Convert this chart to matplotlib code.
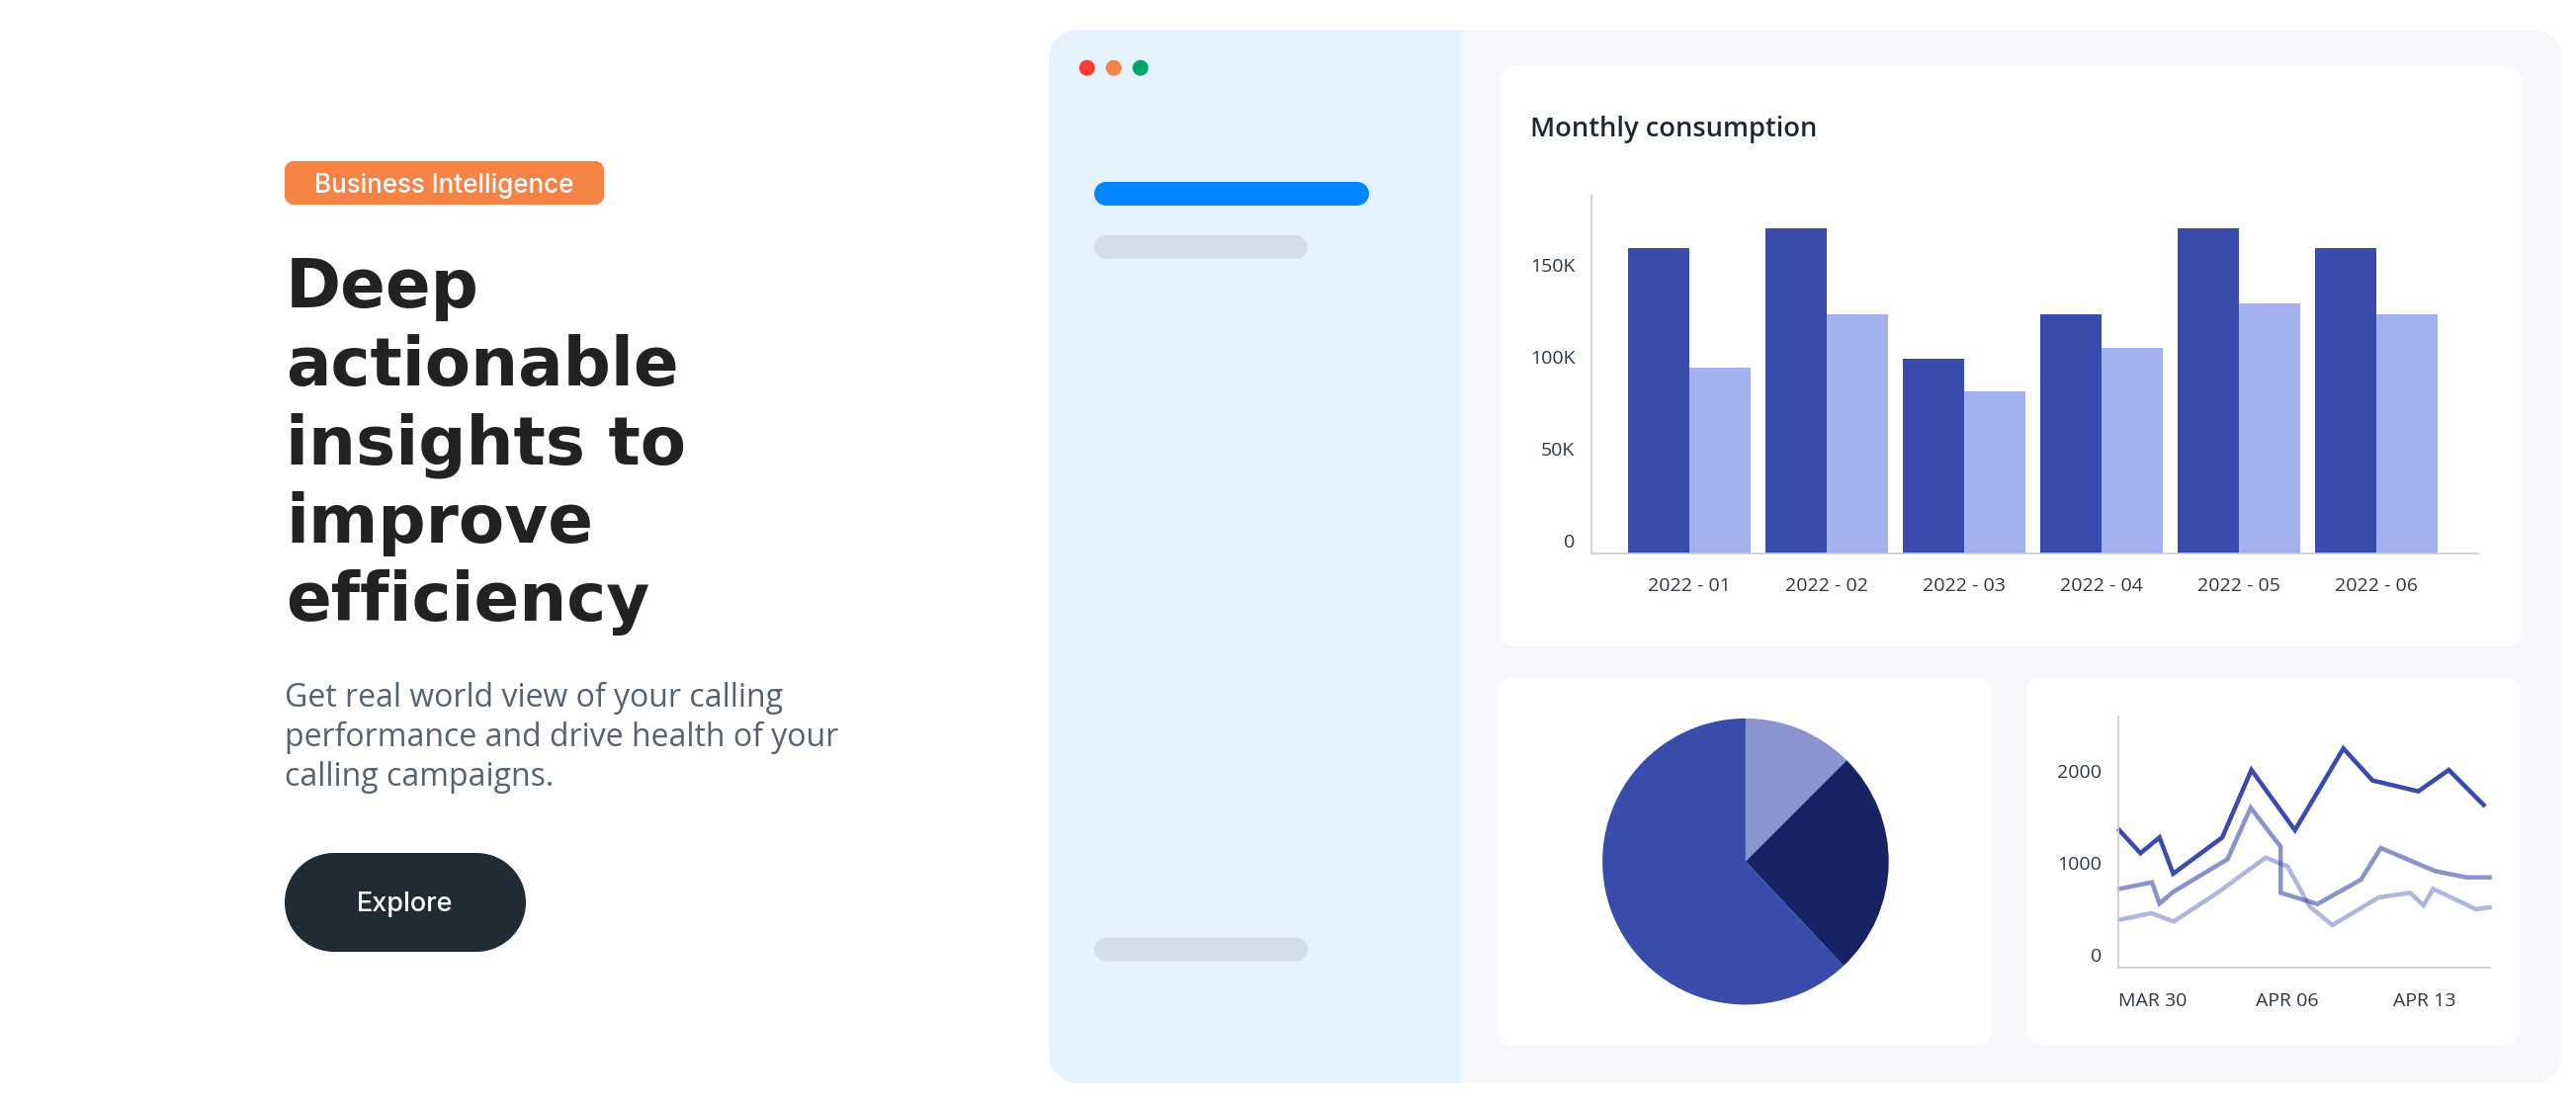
# landing page hero with a mock dashboard: bar, pie and line charts

import matplotlib
matplotlib.use("Agg")
import matplotlib.pyplot as plt
import numpy as np
from matplotlib.patches import Circle, Polygon, Rectangle
from matplotlib.transforms import ScaledTranslation

W, H = 2606, 1116

months = ["2022 - 01", "2022 - 02", "2022 - 03", "2022 - 04", "2022 - 05", "2022 - 06"]
dark_bars = [166000, 177000, 106000, 130000, 177000, 166000]
light_bars = [101000, 130000, 88000, 112000, 136000, 130000]
bar_ticks = [0, 50000, 100000, 150000]
bar_tick_labels = ["0", "50K", "100K", "150K"]

pie_values = [12.5, 25.5, 62]
pie_colors = ["#8A94CE", "#182366", "#394BAB"]

line1_days = [0.05, 1.13, 2.1, 2.8, 5.3, 6.79, 9.01, 11.48, 12.97, 15.3, 16.86, 18.63]
line1_vals = [1498, 1247, 1419, 1024, 1419, 2155, 1498, 2389, 2040, 1922, 2155, 1774]
line2_days = [0.05, 1.72, 2.1, 2.8, 5.57, 6.75, 8.28, 8.28, 10.16, 12.38, 13.39, 16.16, 17.76, 18.94]
line2_vals = [858, 930, 697, 826, 1182, 1742, 1318, 815, 693, 959, 1304, 1052, 984, 984]
line3_days = [0.05, 1.68, 2.83, 5.05, 7.52, 8.63, 9.77, 10.92, 13.28, 14.88, 15.57, 16.06, 18.25, 18.94]
line3_vals = [521, 593, 503, 815, 1200, 1103, 665, 463, 765, 815, 679, 858, 636, 657]
line_ticks = [0, 1000, 2000]
date_ticks = [0, 7, 14]
date_labels = ["MAR 30", "APR 06", "APR 13"]

heading = ["Deep", "actionable", "insights to", "improve", "efficiency"]
heading_base = [311, 390, 470, 549, 628]
para = ["Get real world view of your calling",
        "performance and drive health of your",
        "calling campaigns."]
para_base = [715, 755, 795]

HEAD_FONT = "DejaVu Sans"
SMALL_FONT = "Inter"
BODY_FONT = "Open Sans"
AXIS_COLOR = "#CBCBD2"
LABEL_COLOR = "#2C3643"


def px(size):
    return size * 72 / 100


def rounded(ax, x0, y0, x1, y1, r, color, z=1):
    # true circular corners, FancyBboxPatch corners come out too square
    t = np.linspace(0, np.pi / 2, 24)
    corners = [(x1 - r, y0 + r, -np.pi / 2), (x1 - r, y1 - r, 0),
               (x0 + r, y1 - r, np.pi / 2), (x0 + r, y0 + r, np.pi)]
    pts = []
    for cx, cy, start in corners:
        pts.append(np.column_stack([cx + r * np.cos(t + start), cy + r * np.sin(t + start)]))
    p = Polygon(np.vstack(pts), closed=True, fc=color, ec="none", zorder=z)
    ax.add_patch(p)
    return p


def chart_axes(x0, y0, x1, y1):
    a = fig.add_axes([x0 / W, 1 - y1 / H, (x1 - x0) / W, (y1 - y0) / H])
    a.patch.set_alpha(0)
    a.spines["top"].set_visible(False)
    a.spines["right"].set_visible(False)
    a.spines["left"].set_color(AXIS_COLOR)
    a.spines["bottom"].set_color(AXIS_COLOR)
    a.spines["left"].set_linewidth(1.2)
    a.spines["bottom"].set_linewidth(1.2)
    return a


def lift_labels(a, pixels):
    # y labels in the original sit above their gridline position
    off = ScaledTranslation(0, pixels / 100, fig.dpi_scale_trans)
    for lab in a.get_yticklabels():
        lab.set_transform(lab.get_transform() + off)


fig = plt.figure(figsize=(W / 100, H / 100), dpi=100, facecolor="white")

# page layer in pixel coordinates
bg = fig.add_axes([0, 0, 1, 1])
bg.set_xlim(0, W)
bg.set_ylim(H, 0)
bg.axis("off")

# left column
rounded(bg, 288, 163, 611, 207, 9, "#F58345")
bg.text(449.5, 185, "Business Intelligence", color="white", family=SMALL_FONT,
        weight="medium", fontsize=px(26), ha="center", va="center_baseline")
for line, y in zip(heading, heading_base):
    bg.text(289, y, line, color="#222222", family=HEAD_FONT, weight="bold",
            fontsize=px(67.5), ha="left", va="baseline")
for line, y in zip(para, para_base):
    bg.text(288, y, line, color="#56626F", family=BODY_FONT,
            fontsize=px(32), ha="left", va="baseline")
rounded(bg, 288, 863, 532, 963, 50, "#212B36")
bg.text(410, 922, "Explore", color="white", family=SMALL_FONT, weight="medium",
        fontsize=px(27), ha="center", va="baseline")

# window
rounded(bg, 1061, 30, 2592, 1096, 30, "#F5F7FB", z=1)
sidebar = rounded(bg, 1061, 30, 2592, 1096, 30, "#E4F3FF", z=2)
sidebar.set_clip_path(Rectangle((1061, 30), 417, 1066, transform=bg.transData))
for cx, c in zip([1099.7, 1126.7, 1153.7], ["#FF3B30", "#F58345", "#00A568"]):
    bg.add_patch(Circle((cx, 68.7), 8, fc=c, ec="none", zorder=3))
rounded(bg, 1107, 184, 1385, 208, 12, "#0087FF", z=3)
rounded(bg, 1107, 238, 1323, 262, 12, "#D2DEE9", z=3)
rounded(bg, 1107, 949, 1323, 972.5, 12, "#D2DEE9", z=3)

# cards
rounded(bg, 1517, 67, 2551, 654, 14, "white", z=3)
rounded(bg, 1515, 685, 2015, 1058, 14, "white", z=3)
rounded(bg, 2050, 685, 2549, 1057, 14, "white", z=3)

bg.text(1548, 138, "Monthly consumption", color="#1E2733", family=BODY_FONT,
        weight="semibold", fontsize=px(27.2), ha="left", va="baseline", zorder=4)

# bar chart
ax = chart_axes(1610, 198, 2508, 559.5)
pos = range(len(months))
bar_w = 0.444
ax.bar([p - bar_w / 2 for p in pos], dark_bars, bar_w, color="#394BAB")
ax.bar([p + bar_w / 2 for p in pos], light_bars, bar_w, color="#A3B1EE")
ax.set_xlim(-0.712, 5.748)
ax.set_ylim(0, 194700)
ax.set_xticks(list(pos))
ax.set_xticklabels(months, family=BODY_FONT, fontsize=px(19.5), color=LABEL_COLOR)
ax.set_yticks(bar_ticks)
ax.set_yticklabels(bar_tick_labels, family=BODY_FONT, fontsize=px(19.5), color=LABEL_COLOR)
ax.tick_params(axis="both", length=0)
ax.tick_params(axis="x", pad=18)
ax.tick_params(axis="y", pad=12)
lift_labels(ax, 13)

# pie chart
r = 144.8
pie_ax = fig.add_axes([(1765.9 - r) / W, 1 - (871.7 + r) / H, 2 * r / W, 2 * r / H])
pie_ax.pie(pie_values, colors=pie_colors, startangle=90, counterclock=False, radius=1)
pie_ax.set_xlim(-1, 1)
pie_ax.set_ylim(-1, 1)

# line chart
lx = chart_axes(2143, 725, 2518.6, 979)
lx.plot(line3_days, line3_vals, color="#394BAB", alpha=0.4, lw=px(4.5), solid_joinstyle="miter", clip_on=False)
lx.plot(line2_days, line2_vals, color="#394BAB", alpha=0.6, lw=px(4.5), solid_joinstyle="miter", clip_on=False)
lx.plot(line1_days, line1_vals, color="#394BAB", lw=px(4.5), solid_joinstyle="miter", clip_on=False)
lx.set_xlim(0, 18.94)
lx.set_ylim(0, 2737)
lx.set_xticks(date_ticks)
lx.set_xticklabels(date_labels, family=BODY_FONT, fontsize=px(19.5), color=LABEL_COLOR, ha="left")
lx.set_yticks(line_ticks)
lx.set_yticklabels([str(t) for t in line_ticks], family=BODY_FONT, fontsize=px(19.5), color=LABEL_COLOR)
lx.tick_params(axis="both", length=0)
lx.tick_params(axis="x", pad=18)
lx.tick_params(axis="y", pad=12)
lift_labels(lx, 13)

fig.savefig("out.png", dpi=100, facecolor="white")
